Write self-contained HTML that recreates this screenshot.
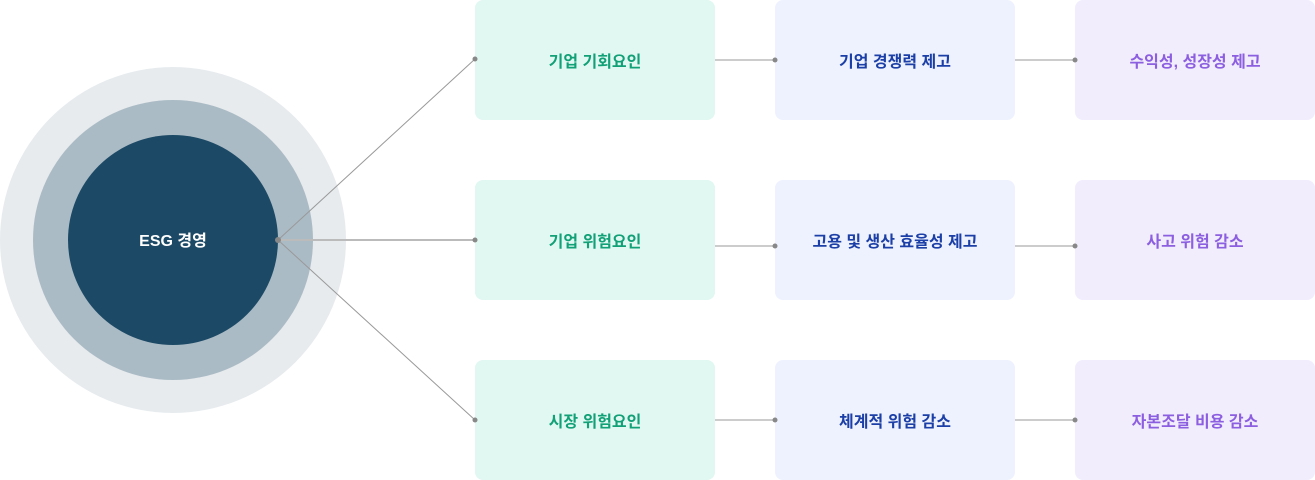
<!DOCTYPE html>
<html><head><meta charset="utf-8"><style>
body{margin:0;width:1315px;height:480px;background:#fff;position:relative;overflow:hidden;font-family:"Liberation Sans","Noto Sans CJK KR",sans-serif;}
.b{position:absolute;width:240px;height:120px;border-radius:8px;display:flex;align-items:center;justify-content:center;font-size:16px;font-weight:bold;}
.c1{left:475px;background:#e0f8f1;color:#12a077}
.c2{left:775px;background:#eef2fe;color:#1b3fa6}
.c3{left:1075px;background:#f1edfd;color:#8c5ee0}
.r1{top:0}.r2{top:180px}.r3{top:360px}
svg{position:absolute;left:0;top:0}
</style></head><body>
<div class="b c1 r1">기업 기회요인</div>
<div class="b c1 r2">기업 위험요인</div>
<div class="b c1 r3">시장 위험요인</div>
<div class="b c2 r1">기업 경쟁력 제고</div>
<div class="b c2 r2">고용 및 생산 효율성 제고</div>
<div class="b c2 r3">체계적 위험 감소</div>
<div class="b c3 r1">수익성, 성장성 제고</div>
<div class="b c3 r2">사고 위험 감소</div>
<div class="b c3 r3">자본조달 비용 감소</div>
<svg width="1315" height="480">
<circle cx="173" cy="240" r="173" fill="#e7ebee"/>
<circle cx="173" cy="240" r="140" fill="#abbbc5"/>
<circle cx="173" cy="240" r="105" fill="#1c4a66"/>
<text x="173" y="246" font-size="16" font-weight="bold" fill="#fff" text-anchor="middle" font-family="Liberation Sans, Noto Sans CJK KR, sans-serif">ESG 경영</text>
<g stroke="#999" stroke-width="1">
<line x1="278" y1="240" x2="475" y2="59"/>
<line x1="278" y1="240" x2="475" y2="240" stroke="#bbb" stroke-width="2"/>
<line x1="278" y1="240" x2="475" y2="420"/>
<line x1="715" y1="60" x2="775" y2="60"/>
<line x1="1015" y1="60" x2="1075" y2="60"/>
<line x1="715" y1="246" x2="775" y2="246"/>
<line x1="1015" y1="246" x2="1075" y2="246"/>
<line x1="715" y1="420" x2="775" y2="420"/>
<line x1="1015" y1="420" x2="1075" y2="420"/>
</g>
<g fill="#888">
<circle cx="278" cy="240" r="3"/>
<circle cx="475" cy="59" r="2.5"/><circle cx="475" cy="240" r="2.5"/><circle cx="475" cy="420" r="2.5"/>
<circle cx="775" cy="60" r="2.5"/><circle cx="775" cy="246" r="2.5"/><circle cx="775" cy="420" r="2.5"/>
<circle cx="1075" cy="60" r="2.5"/><circle cx="1075" cy="246" r="2.5"/><circle cx="1075" cy="420" r="2.5"/>
</g>
</svg>
</body></html>
